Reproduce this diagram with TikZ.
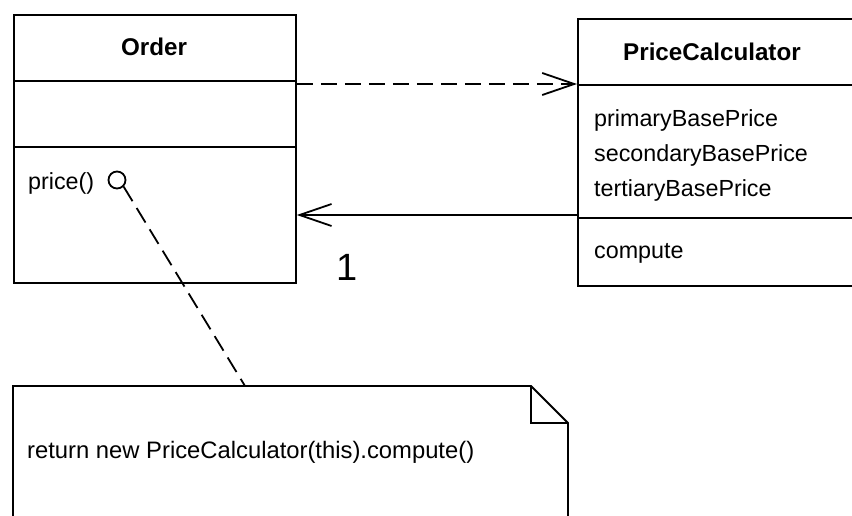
\documentclass[tikz,border=0pt]{standalone}
\usepackage{fontspec}
\setmainfont{Liberation Sans}
\usetikzlibrary{arrows.meta,calc}
\tikzset{
  umlbox/.style={draw, line width=1.8pt, inner sep=0pt, anchor=north west},
  txt/.style={inner sep=0pt, font=\fontsize{23.3}{27}\selectfont},
  lefttxt/.style={txt, anchor=west},
  title/.style={txt, font=\fontsize{24.2}{27}\selectfont\bfseries},
  divider/.style={line width=1.8pt},
  open/.style={-{Straight Barb[length=32pt,width=22pt,line width=1.8pt]}},
  dep/.style={line width=1.8pt, dash pattern=on 16pt off 8pt, open},
  assoc/.style={line width=1.8pt, open},
  anchorline/.style={line width=1.8pt, dash pattern=on 17pt off 8pt},
}
\begin{document}
\begin{tikzpicture}[x=1pt,y=-1pt]
\useasboundingbox (0,0) rectangle (852,516);
\clip (0,0) rectangle (852,516);
% Order class
\node[umlbox, minimum width=282pt, minimum height=268pt] (order) at (13,14) {};
\draw[divider] (order.west |- 0,81) -- (order.east |- 0,81);
\draw[divider] (order.west |- 0,147) -- (order.east |- 0,147);
\node[title] (ordername) at (154,47) {Order};
\node[lefttxt] (price) at (28,183) {price()};
\node[draw, circle, line width=1.8pt, minimum size=17pt, inner sep=0pt] (pin) at (117,180) {};
% PriceCalculator class
\node[umlbox, minimum width=300pt, minimum height=267pt] (pc) at (577,18) {};
\draw[divider] (pc.west |- 0,85) -- (pc.east |- 0,85);
\draw[divider] (pc.west |- 0,218) -- (pc.east |- 0,218);
\node[title, anchor=west] (pcname) at (623,52) {PriceCalculator};
\node[lefttxt] (a1) at (594,120) {primaryBasePrice};
\node[lefttxt] (a2) at (594,155) {secondaryBasePrice};
\node[lefttxt] (a3) at (594,190) {tertiaryBasePrice};
\node[lefttxt] (op) at (594,253) {compute};
% connectors
\coordinate (depend) at (577,84);
\coordinate (assocstart) at (577,215);
\draw[dep] (order.east |- depend) -- (depend);
\draw[assoc] (assocstart) -- (order.east |- assocstart);
\node[inner sep=0pt, font=\fontsize{38}{40}\selectfont] (mult) at (347,267) {1};
% note
\coordinate (nA) at (13,386);
\coordinate (nB) at (531,386);
\coordinate (nC) at (568,423);
\coordinate (nD) at (568,530);
\coordinate (nE) at (13,530);
\draw[line width=1.8pt] (nE) -- (nA) -- (nB) -- (nC) -- (nD);
\draw[line width=1.8pt] (nB) -- (nB |- nC) -- (nC);
\node[lefttxt, font=\fontsize{23.8}{27}\selectfont] (note) at (27,452) {return new PriceCalculator(this).compute()};
\coordinate (notetop) at (245,386);
\draw[anchorline] (pin.south east) -- (notetop);
\end{tikzpicture}
\end{document}
